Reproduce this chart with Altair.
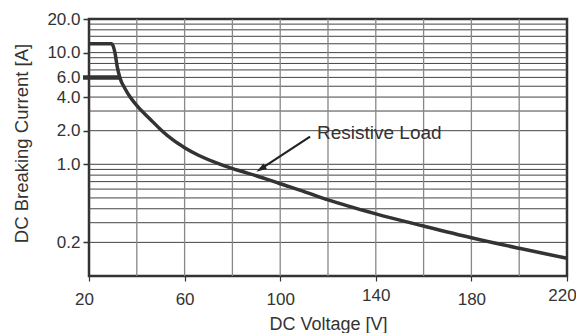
import altair as alt
import pandas as pd

# --- data ---
voltage = [20, 29.5, 30.9, 31.8, 33, 35.1, 37.2, 40.6, 45.5, 50.5, 55, 60, 66, 75,
           83, 90, 100, 110, 120, 140, 160, 180, 200, 220]
current = [12, 12, 9.9, 7.5, 5.9, 4.75, 4.0, 3.25, 2.55, 2.0, 1.66, 1.41, 1.2, 1.0,
           0.875, 0.79, 0.67, 0.57, 0.48, 0.36, 0.28, 0.22, 0.177, 0.144]

x_ticks = [20, 60, 100, 140, 180, 220]
x_grid = [40, 60, 80, 100, 120, 140, 160, 180, 200]
y_ticks = [0.2, 1, 2, 4, 6, 10, 20]
y_grid = [18, 16, 14, 12, 10, 9, 8, 7, 6, 5, 4, 3, 2, 1,
          0.9, 0.8, 0.7, 0.6, 0.5, 0.4, 0.3, 0.2]

rated_6a = {"x": 17.5, "x2": 33, "y": 6}
annotation = {"text": "Resistive Load", "x": 115.4, "y": 1.9}
arrow = {"x": 112.5, "y": 1.77, "x2": 91.9, "y2": 0.91}

TXT = "#333333"
FONT = "Liberation Sans"

xscale = alt.Scale(domain=[20, 220], nice=False, zero=False)
yscale = alt.Scale(type="log", domain=[0.1, 20], nice=False)

xaxis = alt.Axis(values=x_ticks, grid=False, domain=False, tickSize=5, tickColor="#333333",
                 tickWidth=1.2,
                 labelPadding={"condition": {"test": "datum.value == 140 || datum.value == 220",
                                             "value": 6}, "value": 10},
                 labelOffset={"condition": {"test": "datum.value == 220 || datum.value == 20",
                                            "value": -5}, "value": 0},
                 labelFontSize=17, labelColor=TXT,
                 labelFont=FONT, title="DC Voltage [V]", titleFontSize=18,
                 titleFontWeight="normal", titleColor=TXT, titleFont=FONT,
                 titleY=53, titleBaseline="alphabetic", labelFlush=False)
yaxis = alt.Axis(values=y_ticks, format=".1f", grid=False, domain=False, tickSize=6,
                 tickColor="#333333", tickWidth=1.5, labelPadding=3, labelFontSize=17,
                 labelColor=TXT, labelFont=FONT, title="DC Breaking Current [A]",
                 titleFontSize=18.5, titleFontWeight="normal", titleColor=TXT,
                 titleFont=FONT, titleX=-62, titleY=124, titleBaseline="alphabetic",
                 labelFlush=False)


def X(field):
    return alt.X(field, scale=xscale, axis=xaxis)


def Y(field):
    return alt.Y(field, scale=yscale, axis=yaxis)


curve_df = pd.DataFrame({"V": voltage, "I": current})

curve = alt.Chart(curve_df).mark_line(
    color="#333333", strokeWidth=3.5, interpolate="monotone").encode(
    x=X("V:Q"), y=Y("I:Q"))

hgrid = alt.Chart(pd.DataFrame({"I": y_grid})).mark_rule(
    color="#444444", strokeWidth=1).encode(y=Y("I:Q"))

vgrid = alt.Chart(pd.DataFrame({"V": x_grid})).mark_rule(
    color="#888888", strokeWidth=1.3).encode(x=X("V:Q"))

six = alt.Chart(pd.DataFrame([rated_6a])).mark_rule(
    color="#333333", strokeWidth=4.5, clip=False).encode(
    x=X("x:Q"), x2="x2:Q", y=Y("y:Q"))

arrow_line = alt.Chart(pd.DataFrame([arrow])).mark_rule(
    color="#222222", strokeWidth=2.2).encode(
    x=X("x:Q"), x2="x2:Q", y=Y("y:Q"), y2="y2:Q")

arrow_head = alt.Chart(pd.DataFrame([{"x": arrow["x2"], "y": arrow["y2"]}])).mark_point(
    shape="M0,-1L0.6,1L-0.6,1Z", filled=True, color="#222222", size=110,
    angle=237, opacity=1).encode(x=X("x:Q"), y=Y("y:Q"))

label = alt.Chart(pd.DataFrame([annotation])).mark_text(
    align="left", baseline="middle", fontSize=19, font=FONT, color=TXT).encode(
    x=X("x:Q"), y=Y("y:Q"), text="text:N")

chart = alt.layer(hgrid, vgrid, curve, six, arrow_line, arrow_head, label).properties(
    width=478, height=257,
    autosize="none",
    padding={"left": 81, "top": 11, "right": 9, "bottom": 57},
).configure_view(stroke="#333333", strokeWidth=2.5)

chart.save("out.html", embed_options={"renderer": "svg", "actions": False})
